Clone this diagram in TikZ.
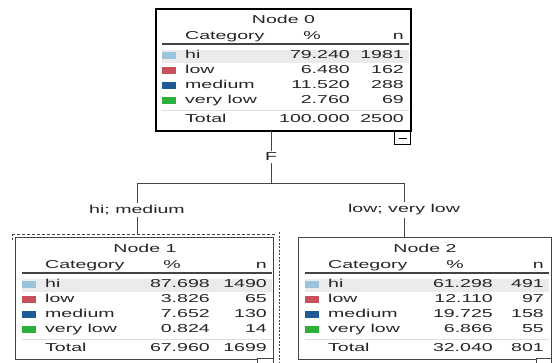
\documentclass[tikz,border=0pt]{standalone}
\usepackage{fontspec}
\setmainfont{Liberation Sans}
\newfontfamily\wfont[FakeStretch=1.7]{Liberation Sans}
\usetikzlibrary{calc}
\definecolor{chi}{HTML}{9CC3DC}
\definecolor{clow}{HTML}{C8505A}
\definecolor{cmed}{HTML}{1E5A96}
\definecolor{cvlow}{HTML}{2DB039}
\definecolor{bandgray}{HTML}{EBEBEB}
\definecolor{sepgray}{HTML}{DDDDDD}
\definecolor{txt}{HTML}{262626}
\definecolor{linegray}{HTML}{444444}
\tikzset{
  tx/.style={font=\wfont\fontsize{11.5}{12}\selectfont, text=txt, inner sep=0pt},
  boxstyle/.style={draw=linegray, line width=1pt, fill=white, inner sep=0pt},
  rootbox/.style={draw=black, line width=2pt, fill=white, inner sep=0pt},
  conn/.style={draw=linegray, line width=1pt},
  lbl/.style={tx, fill=white, inner sep=2pt},
  minusbox/.style={draw=black, line width=1pt, fill=white},
}
% #1 name, #2 left, #3 top, #4 right, #5 title, #6 rows, #7 total pct, #8 total n
\newcommand\spssnode[8]{%
  \fill[bandgray] ({#2+7},{#3+41.5}) rectangle ({#4-1},{#3+54.5});
  \node[tx] (#1-title) at ({(#2+#4)/2+1},{#3+11}) {#5};
  \node[tx, anchor=mid west] (#1-cat) at ({#2+30},{#3+29}) {Category};
  \node[tx, anchor=mid] (#1-pct) at ({#2+157},{#3+29}) {\%};
  \node[tx, anchor=mid east] (#1-n) at ({#4-6},{#3+29}) {n};
  \draw[draw=linegray, line width=1.2pt] ({#2+7},{#3+36}) -- ({#4-1},{#3+36});
  \foreach \p/\n/\lab/\col [count=\i] in {#6} {
    \fill[\col] ({#2+7},{#3+48+15*(\i-1)-4.5}) rectangle ({#2+21},{#3+48+15*(\i-1)+2.5});
    \node[tx, anchor=mid west] (#1-l\i) at ({#2+30},{#3+48+15*(\i-1)}) {\lab};
    \node[tx, anchor=mid east] (#1-p\i) at ({#2+195},{#3+48+15*(\i-1)}) {\p};
    \node[tx, anchor=mid east] (#1-k\i) at ({#4-6},{#3+48+15*(\i-1)}) {\n};
  }
  \draw[draw=sepgray, line width=1pt] ({#2+7},{#3+102}) -- ({#4-1},{#3+102});
  \node[tx, anchor=mid west] (#1-tl) at ({#2+30},{#3+112}) {Total};
  \node[tx, anchor=mid east] (#1-tp) at ({#2+195},{#3+112}) {#7};
  \node[tx, anchor=mid east] (#1-tn) at ({#4-6},{#3+112}) {#8};
}
\begin{document}
\begin{tikzpicture}[x=1pt,y=-1pt]
\useasboundingbox[fill=white] (0,0) rectangle (552,362);

% boxes
\node[rootbox, anchor=north west, minimum width=255pt, minimum height=122pt] (n0) at (155,8) {};
\node[boxstyle, anchor=north west, minimum width=258pt, minimum height=122pt] (n1) at (15,236.5) {};
\node[boxstyle, anchor=north west, minimum width=253pt, minimum height=122pt] (n2) at (298,237) {};
\draw[linegray, line width=0.9pt, dash pattern=on 3pt off 2pt] (12,234) -- (275,234);
\draw[linegray, line width=0.9pt, dash pattern=on 2pt off 1.5pt] (279,232) -- (279,365);
\draw[linegray, line width=0.9pt, dash pattern=on 2pt off 1.5pt] (12,234) -- (12,240);

\spssnode{a}{155}{8}{410}{Node 0}{79.240/1981/hi/chi, 6.480/162/low/clow, 11.520/288/medium/cmed, 2.760/69/very low/cvlow}{100.000}{2500}
\spssnode{b}{15}{237}{273}{Node 1}{87.698/1490/hi/chi, 3.826/65/low/clow, 7.652/130/medium/cmed, 0.824/14/very low/cvlow}{67.960}{1699}
\spssnode{c}{298}{237}{550}{Node 2}{61.298/491/hi/chi, 12.110/97/low/clow, 19.725/158/medium/cmed, 6.866/55/very low/cvlow}{32.040}{801}

% collapse buttons
\node[minusbox, anchor=north west, minimum width=16pt, minimum height=13pt, inner sep=0pt] (m0) at (394,131) {};
\draw[black, line width=1pt] ($(m0.center)+(-4,0)$) -- ($(m0.center)+(4,0)$);
\node[minusbox, draw=linegray, anchor=north west, minimum width=16pt, minimum height=13pt, inner sep=0pt] (m1) at (257,358) {};
\node[minusbox, draw=linegray, anchor=north west, minimum width=15pt, minimum height=13pt, inner sep=0pt] (m2) at (536,358) {};

% connectors
\coordinate (r0) at (271,131);
\coordinate (j0) at (271,183);
\coordinate (jL) at (137,183);
\coordinate (jR) at (404,183);
\coordinate (t1) at (137,234);
\coordinate (t2) at (404,237);
\node[lbl] (lF) at (271,157) {F};
\node[lbl] (lL) at (137,210) {hi; medium};
\node[lbl] (lR) at (404,210) {low; very low};
\draw[conn] (r0) -- (lF) -- (j0);
\draw[conn] (jL) -- (jR);
\draw[conn] (jL) -- (lL) -- (t1);
\draw[conn] (jR) -- (lR) -- (t2);
\end{tikzpicture}
\end{document}
